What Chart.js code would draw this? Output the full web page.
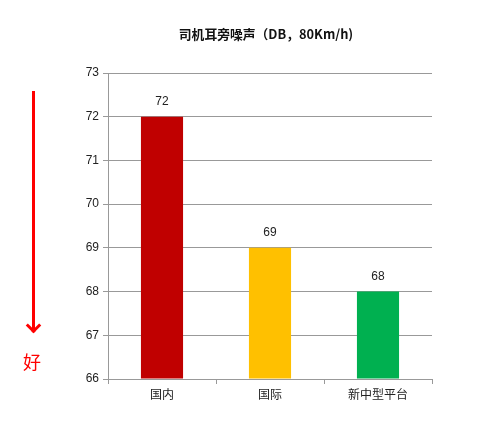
<!DOCTYPE html>
<html><head><meta charset="utf-8">
<script src="https://cdn.jsdelivr.net/npm/chart.js@4/dist/chart.umd.min.js"></script>
<style>
html,body{margin:0;padding:0;background:#fff;}
#wrap{position:relative;width:494px;height:437px;}
#arrow{position:absolute;left:32px;top:91px;width:3px;height:238px;background:#ff0000;}
#head{position:absolute;left:27.5px;top:320px;width:8px;height:8px;border-right:3px solid #ff0000;border-bottom:3px solid #ff0000;transform:rotate(45deg);}
#good{position:absolute;left:23px;top:348px;font:18px "Noto Sans CJK SC";color:#ff0000;}
</style></head>
<body><div id="wrap"><canvas id="c" width="494" height="437"></canvas>
<div id="arrow"></div><div id="head"></div><div id="good">好</div></div>
<script>
const titleText = '司机耳旁噪声（DB，80Km/h)';
const categories = ['国内','国际','新中型平台'];
const values = [72, 69, 68];
const barColors = ['#C00000','#FFC000','#00B050'];
const yMin = 66, yMax = 73;

const labelPlugin = {
  id:'labels',
  afterDatasetsDraw(chart){
    const ctx = chart.ctx;
    const meta = chart.getDatasetMeta(0);
    ctx.save();
    ctx.font = '12px "Liberation Sans", Arial';
    ctx.fillStyle = '#222';
    ctx.textAlign = 'center';
    ctx.textBaseline = 'middle';
    meta.data.forEach((b,i)=>{ ctx.fillText(String(values[i]), b.x, b.y - 15); });
    ctx.restore();
  }
};
const titlePlugin = {
  id:'ttl',
  afterDraw(chart){
    const ctx = chart.ctx, a = chart.chartArea;
    ctx.save();
    ctx.font = 'bold 12.8px "Noto Sans CJK SC", "Liberation Sans"';
    ctx.fillStyle = '#111';
    ctx.textAlign = 'center';
    ctx.textBaseline = 'middle';
    ctx.fillText(titleText, (a.left + a.right)/2 - 4, 34);
    ctx.restore();
  }
};

new Chart(document.getElementById('c'), {
  type:'bar',
  data:{ labels:categories, datasets:[{ data:values, backgroundColor:barColors, barPercentage:0.39, categoryPercentage:1.0, base:yMin }]},
  options:{
    responsive:false, animation:false,
    layout:{ padding:{ top:73, right:62, left:0, bottom:0 } },
    plugins:{ legend:{display:false}, tooltip:{enabled:false}, title:{display:false} },
    scales:{
      x:{
        grid:{ offset:true, drawOnChartArea:false, color:'#999', tickLength:5, lineWidth:1 },
        border:{ color:'#999' },
        ticks:{ color:'#222', font:{ family:'"Noto Sans CJK SC"', size:12 }, padding:3 },
        afterFit(s){ s.height = 58; }
      },
      y:{
        min:yMin, max:yMax,
        grid:{ color:'#999', tickLength:5, lineWidth:1 },
        border:{ color:'#999' },
        ticks:{ stepSize:1, color:'#222', font:{ family:'"Liberation Sans", Arial', size:12 }, padding:4 },
        afterFit(s){ s.width = 108; }
      }
    }
  },
  plugins:[labelPlugin, titlePlugin]
});
</script></body></html>
